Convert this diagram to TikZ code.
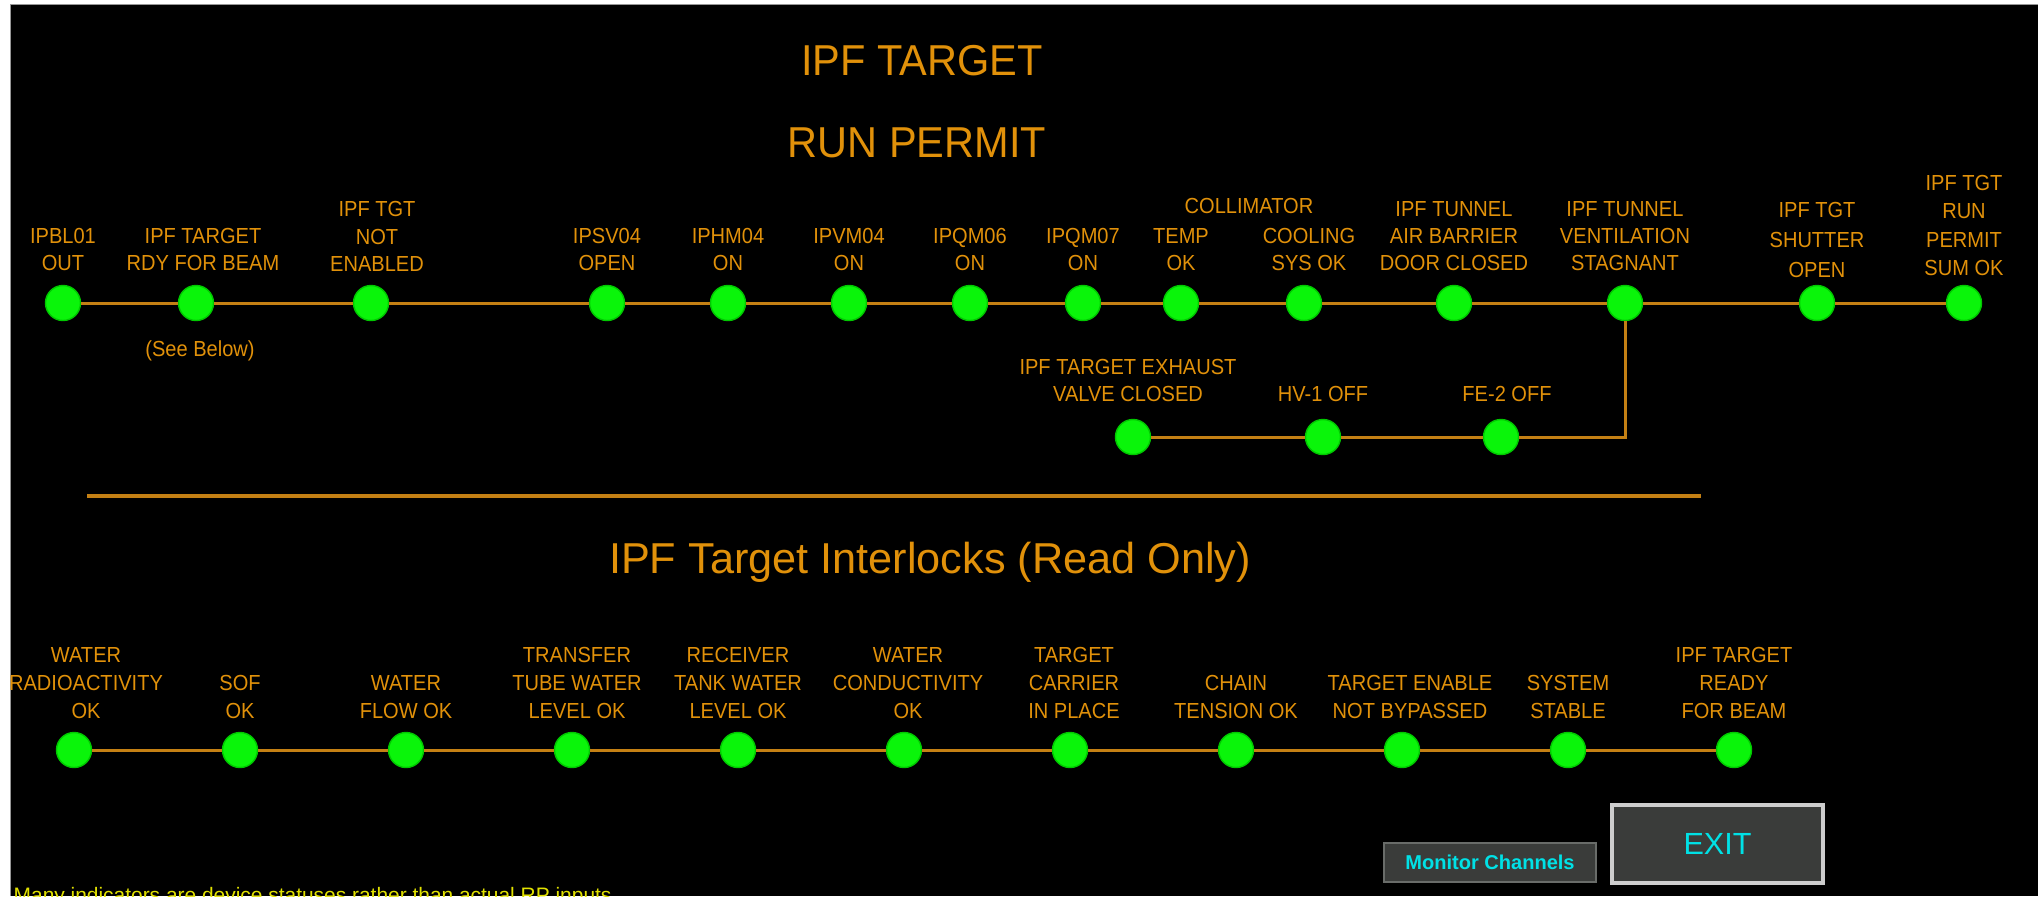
\documentclass[tikz,border=0pt]{standalone}
\usepackage{fontspec}
\setmainfont{Liberation Sans}
\newfontfamily\tagfont[FakeStretch=0.92]{Liberation Sans}
\newfontfamily\titlefont[FakeStretch=0.96]{Liberation Sans}
\usetikzlibrary{positioning}
\definecolor{amber}{RGB}{225,145,10}
\definecolor{wireamber}{RGB}{196,128,20}
\definecolor{lampgreen}{RGB}{10,245,10}
\definecolor{lampedge}{RGB}{0,200,0}
\definecolor{btngray}{RGB}{58,60,58}
\definecolor{btnrim}{RGB}{105,108,105}
\definecolor{exitrim}{RGB}{205,205,205}
\definecolor{btncyan}{RGB}{0,225,230}
\definecolor{noteyellow}{RGB}{225,225,0}
\definecolor{panelrim}{RGB}{150,150,150}
\tikzset{
	lamp/.style={
		circle, fill=lampgreen, draw=lampedge, line width=0.4pt,
		minimum size=0.35cm, inner sep=0pt
	},
	tag/.style={
		text=amber, align=center, inner sep=0pt,
		font=\tagfont\fontsize{6.2}{7.7}\selectfont
	},
	toptag/.style={tag, yshift=0.13cm},
	branchtag/.style={tag, yshift=0.16cm},
	lowtag/.style={tag, yshift=0.12cm, font=\tagfont\fontsize{6.2}{8}\selectfont},
	wire/.style={draw=wireamber, line width=0.85pt},
	rule/.style={draw=wireamber, line width=1.15pt},
	heading/.style={text=amber, inner sep=0pt, anchor=base},
	button/.style={fill=btngray, text=btncyan, inner sep=0pt}
}
\begin{document}
\begin{tikzpicture}[x=0.01cm, y=-0.01cm]
	\useasboundingbox (0,0) rectangle (2038,896);
	\clip (0,0) rectangle (2038,896);
	\fill[white] (0,0) rectangle (2038,896);
	\fill[black] (11,5) rectangle (2038,896);
	\draw[panelrim, line width=0.3pt] (10.5,896) -- (10.5,4.5) -- (2038,4.5);

	\node[heading, font=\titlefont\fontsize{12.3}{14}\selectfont] (title) at (922,75) {IPF TARGET};
	\node[heading, font=\titlefont\fontsize{12.3}{14}\selectfont] (subtitle) at (917,157) {RUN PERMIT};

	\node[lamp, label={[toptag]above:{IPBL01\\OUT}}] (ipbl) at (63,303) {};
	\node[lamp, label={[toptag, xshift=0.07cm]above:{IPF TARGET\\RDY FOR BEAM}}] (tgtrdy) at (196,303) {};
	\node[tag, below=0.19cm of tgtrdy, xshift=0.04cm] (seebelow) {(See Below)};
	\node[lamp, label={[toptag, xshift=0.06cm]above:{IPF TGT\\NOT\\ENABLED}}] (notenab) at (371,303) {};
	\node[lamp, label={[toptag]above:{IPSV04\\OPEN}}] (ipsv) at (607,303) {};
	\node[lamp, label={[toptag]above:{IPHM04\\ON}}] (iphm) at (728,303) {};
	\node[lamp, label={[toptag]above:{IPVM04\\ON}}] (ipvm) at (849,303) {};
	\node[lamp, label={[toptag]above:{IPQM06\\ON}}] (ipqm6) at (970,303) {};
	\node[lamp, label={[toptag]above:{IPQM07\\ON}}] (ipqm7) at (1083,303) {};
	\node[lamp, label={[toptag]above:{TEMP\\OK}}] (colltemp) at (1181,303) {};
	\node[lamp, label={[toptag, xshift=0.05cm]above:{COOLING\\SYS OK}}] (collcool) at (1304,303) {};
	\node[tag, anchor=base] (collimator) at (1249,213) {COLLIMATOR};
	\node[lamp, label={[toptag]above:{IPF TUNNEL\\AIR BARRIER\\DOOR CLOSED}}] (airdoor) at (1454,303) {};
	\node[lamp, label={[toptag]above:{IPF TUNNEL\\VENTILATION\\STAGNANT}}] (vent) at (1625,303) {};
	\node[lamp, label={[toptag, yshift=-0.07cm, font=\tagfont\fontsize{6.2}{8.6}\selectfont]above:{IPF TGT\\SHUTTER\\OPEN}}] (shutter) at (1817,303) {};
	\node[lamp, label={[toptag, yshift=-0.05cm, font=\tagfont\fontsize{6.2}{8.1}\selectfont]above:{IPF TGT\\RUN\\PERMIT\\SUM OK}}] (sumok) at (1964,303) {};

	\node[lamp, label={[branchtag, xshift=-0.05cm]above:{IPF TARGET EXHAUST\\VALVE CLOSED}}] (exhaust) at (1133,437) {};
	\node[lamp, label={[branchtag]above:{HV-1 OFF}}] (hvone) at (1323,437) {};
	\node[lamp, label={[branchtag, xshift=0.06cm]above:{FE-2 OFF}}] (fetwo) at (1501,437) {};

	\draw[wire] (ipbl) -- (tgtrdy) -- (notenab) -- (ipsv) -- (iphm) -- (ipvm) -- (ipqm6) -- (ipqm7)
		-- (colltemp) -- (collcool) -- (airdoor) -- (vent) -- (shutter) -- (sumok);
	\draw[wire] (exhaust) -- (hvone) -- (fetwo) -- (fetwo -| vent) -- (vent);

	\draw[rule] (87,496) -- (1701,496);
	\node[heading, font=\fontsize{12.3}{14}\selectfont] (interlocks) at (930,573) {IPF Target Interlocks (Read Only)};

	\node[lamp, label={[lowtag, xshift=0.12cm]above:{WATER\\RADIOACTIVITY\\OK}}] (radio) at (74,750) {};
	\node[lamp, label={[lowtag]above:{SOF\\OK}}] (sof) at (240,750) {};
	\node[lamp, label={[lowtag]above:{WATER\\FLOW OK}}] (flow) at (406,750) {};
	\node[lamp, label={[lowtag, xshift=0.05cm]above:{TRANSFER\\TUBE WATER\\LEVEL OK}}] (xfer) at (572,750) {};
	\node[lamp, label={[lowtag]above:{RECEIVER\\TANK WATER\\LEVEL OK}}] (recv) at (738,750) {};
	\node[lamp, label={[lowtag, xshift=0.04cm]above:{WATER\\CONDUCTIVITY\\OK}}] (cond) at (904,750) {};
	\node[lamp, label={[lowtag, xshift=0.04cm]above:{TARGET\\CARRIER\\IN PLACE}}] (carrier) at (1070,750) {};
	\node[lamp, label={[lowtag]above:{CHAIN\\TENSION OK}}] (chain) at (1236,750) {};
	\node[lamp, label={[lowtag, xshift=0.08cm]above:{TARGET ENABLE\\NOT BYPASSED}}] (bypass) at (1402,750) {};
	\node[lamp, label={[lowtag]above:{SYSTEM\\STABLE}}] (stable) at (1568,750) {};
	\node[lamp, label={[lowtag]above:{IPF TARGET\\READY\\FOR BEAM}}] (ready) at (1734,750) {};
	\draw[wire] (radio) -- (sof) -- (flow) -- (xfer) -- (recv) -- (cond) -- (carrier) -- (chain)
		-- (bypass) -- (stable) -- (ready);

	\node[button, draw=btnrim, line width=0.5pt, minimum width=2.12cm, minimum height=0.39cm,
		font=\bfseries\fontsize{5.7}{7}\selectfont] (monitor) at (1490,862.5) {Monitor Channels};
	\node[button, draw=exitrim, line width=0.9pt, minimum width=2.11cm, minimum height=0.78cm,
		font=\fontsize{8.7}{10}\selectfont] (exit) at (1717.5,844) {EXIT};

	\node[anchor=base west, inner sep=0pt, text=noteyellow, font=\fontsize{5.95}{7}\selectfont] (note) at (13,902)
		{Many indicators are device statuses rather than actual RP inputs};
\end{tikzpicture}
\end{document}
